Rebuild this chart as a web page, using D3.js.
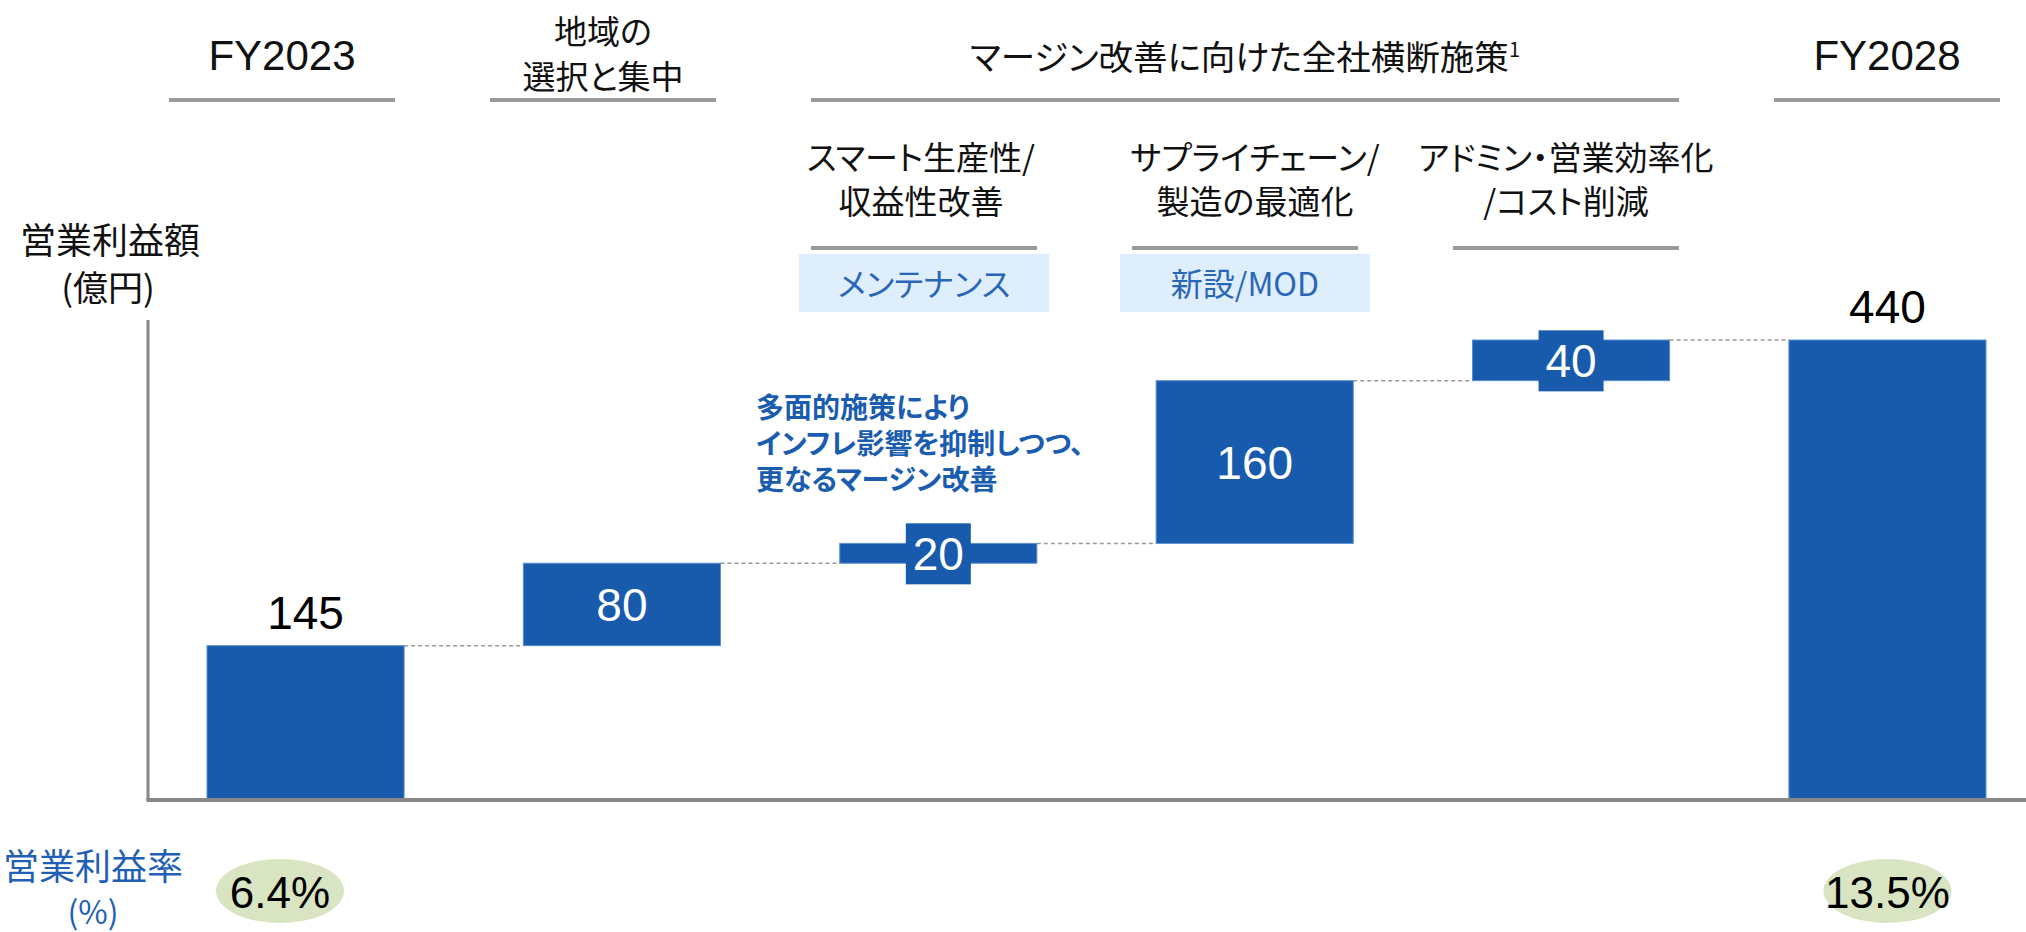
<html>
<head>
    <meta charset="utf-8">
    <script src="https://cdn.jsdelivr.net/npm/d3@7/dist/d3.min.js"></script>
    <style>
        body { margin: 0; background: #fff; }
        text { font-feature-settings: "palt"; }
    </style>
</head>
<body>
    <script type="text/javascript">
        // chart data
        const categories = ["FY2023", "地域の選択と集中", "スマート生産性/収益性改善", "サプライチェーン/製造の最適化", "アドミン・営業効率化/コスト削減", "FY2028"];
        const barKinds = ["total", "delta", "delta", "delta", "delta", "total"];
        // bar heights as drawn in the picture (億円)
        const barValues = [147, 79, 19, 156, 39, 440];
        // value labels as printed
        const valueLabels = ["145", "80", "20", "160", "40", "440"];
        const marginRates = ["6.4%", null, null, null, null, "13.5%"];

        const topHeaders = [
            { col: 0, span: 1, lines: ["FY2023"] },
            { col: 1, span: 1, lines: ["地域の", "選択と集中"] },
            { col: 2, span: 3, lines: ["マージン改善に向けた全社横断施策"], sup: "1" },
            { col: 5, span: 1, lines: ["FY2028"] }
        ];
        const subHeaders = [
            { col: 2, lines: ["スマート生産性/", "収益性改善"], tag: "メンテナンス" },
            { col: 3, lines: ["サプライチェーン/", "製造の最適化"], tag: "新設/MOD" },
            { col: 4, lines: ["アドミン・営業効率化", "/コスト削減"] }
        ];
        const noteLines = ["多面的施策により", "インフレ影響を抑制しつつ、", "更なるマージン改善"];

        const width = 2026;
        const height = 932;
        const blue = "#185BAD";
        const jp = "'Noto Sans CJK JP', 'Noto Sans', sans-serif";
        const num = "'Liberation Sans', Arial, sans-serif";

        const svg = d3.select("body").append("svg")
            .attr("width", width)
            .attr("height", height);

        const x = d3.scaleBand()
            .domain(categories)
            .range([207, 1986])
            .paddingInner(0.377)
            .paddingOuter(0);

        const y = d3.scaleLinear()
            .domain([0, 440])
            .range([799, 340]);

        // running totals for the waterfall
        let run = 0;
        const bars = categories.map((c, i) => {
            let y0, y1;
            if (barKinds[i] === "total") { y0 = 0; y1 = barValues[i]; run = y1; }
            else { y0 = run; y1 = run + barValues[i]; run = y1; }
            return { cat: c, kind: barKinds[i], y0, y1, label: valueLabels[i], rate: marginRates[i] };
        });

        // connectors
        svg.append("g").selectAll("line")
            .data(bars.slice(0, -1))
            .join("line")
                .attr("x1", d => x(d.cat) + x.bandwidth())
                .attr("x2", (d, i) => x(bars[i + 1].cat))
                .attr("y1", d => y(d.y1))
                .attr("y2", d => y(d.y1))
                .attr("stroke", "#9a9a9a")
                .attr("stroke-width", 1.5)
                .attr("stroke-dasharray", "4,3");

        // bars
        svg.append("g").selectAll("rect")
            .data(bars)
            .join("rect")
                .attr("x", d => x(d.cat))
                .attr("y", d => y(d.y1))
                .attr("width", x.bandwidth())
                .attr("height", d => y(d.y0) - y(d.y1))
                .attr("fill", blue)
                .attr("stroke", "#5d8fcf")
                .attr("stroke-width", 1);

        // axes lines
        svg.append("line")
            .attr("x1", 148).attr("x2", 148)
            .attr("y1", 320).attr("y2", y(0) + 1.5)
            .attr("stroke", "#888").attr("stroke-width", 3);
        svg.append("line")
            .attr("x1", 146.5).attr("x2", width)
            .attr("y1", y(0) + 1).attr("y2", y(0) + 1)
            .attr("stroke", "#888").attr("stroke-width", 4);

        // value labels
        const cx = d => x(d.cat) + x.bandwidth() / 2;
        bars.forEach(d => {
            const big = (y(d.y0) - y(d.y1)) > 70;
            if (d.kind === "total") {
                svg.append("text")
                    .attr("x", cx(d)).attr("y", y(d.y1) - 17)
                    .attr("text-anchor", "middle")
                    .style("font-family", num).style("font-size", "46px")
                    .attr("fill", "#000").text(d.label);
            } else if (big) {
                svg.append("text")
                    .attr("x", cx(d)).attr("y", (y(d.y0) + y(d.y1)) / 2)
                    .attr("dy", "0.36em")
                    .attr("text-anchor", "middle")
                    .style("font-family", num).style("font-size", "46px")
                    .attr("fill", "#fff").text(d.label);
            } else {
                // small step: label sits on a blue box wider than the bar
                const my = (y(d.y0) + y(d.y1)) / 2;
                svg.append("rect")
                    .attr("x", cx(d) - 32.5).attr("y", my - 30)
                    .attr("width", 65).attr("height", 61)
                    .attr("fill", blue);
                svg.append("text")
                    .attr("x", cx(d)).attr("y", my)
                    .attr("dy", "0.36em")
                    .attr("text-anchor", "middle")
                    .style("font-family", num).style("font-size", "46px")
                    .attr("fill", "#fff").text(d.label);
            }
        });

        // headers
        const colX = i => 282 + i * 321;
        const headG = svg.append("g").style("font-family", jp).attr("fill", "#111");
        topHeaders.forEach(h => {
            const c = (colX(h.col) + colX(h.col + h.span - 1)) / 2;
            const isFY = h.lines[0].startsWith("FY");
            h.lines.forEach((t, k) => {
                const base = h.lines.length === 2 ? 44 + k * 45 : 70;
                const tx = headG.append("text")
                    .attr("x", c).attr("y", base)
                    .attr("text-anchor", "middle")
                    .style("font-family", isFY ? num : jp)
                    .style("font-size", isFY ? "42px" : (h.lines.length === 2 ? "33px" : "34.5px"))
                    .text(t);
                if (h.sup) {
                    tx.append("tspan").attr("dy", -13).style("font-size", "20px").text(h.sup);
                }
            });
            headG.append("line")
                .attr("x1", colX(h.col) - 113).attr("x2", colX(h.col + h.span - 1) + 113)
                .attr("y1", 100).attr("y2", 100)
                .attr("stroke", "#9a9a9a").attr("stroke-width", 4);
        });

        const subX = [null, null, 921, 1255, 1566];
        subHeaders.forEach(h => {
            const c = subX[h.col];
            h.lines.forEach((t, k) => {
                headG.append("text")
                    .attr("x", c).attr("y", 170 + k * 44)
                    .attr("text-anchor", "middle")
                    .style("font-size", "33px")
                    .text(t);
            });
            headG.append("line")
                .attr("x1", colX(h.col) - 113).attr("x2", colX(h.col) + 113)
                .attr("y1", 248).attr("y2", 248)
                .attr("stroke", "#9a9a9a").attr("stroke-width", 4);
            if (h.tag) {
                headG.append("rect")
                    .attr("x", colX(h.col) - 125).attr("y", 254)
                    .attr("width", 250).attr("height", 58)
                    .attr("fill", "#DFEEFC");
                headG.append("text")
                    .attr("x", colX(h.col)).attr("y", 296)
                    .attr("text-anchor", "middle")
                    .style("font-size", "32px")
                    .attr("fill", "#2a66b8")
                    .text(h.tag);
            }
        });

        // axis title
        svg.append("text").attr("x", 110).attr("y", 254)
            .attr("text-anchor", "middle")
            .style("font-family", jp).style("font-size", "36px").attr("fill", "#111")
            .text("営業利益額");
        svg.append("text").attr("x", 108).attr("y", 301)
            .attr("text-anchor", "middle")
            .style("font-family", jp).style("font-size", "35px").attr("fill", "#111")
            .text("(億円)");

        // annotation
        noteLines.forEach((t, k) => {
            svg.append("text")
                .attr("x", 756).attr("y", 418 + k * 36)
                .style("font-family", jp).style("font-size", "28px").style("font-weight", "bold")
                .attr("fill", "#1a5cb0")
                .text(t);
        });

        // margin row
        svg.append("text").attr("x", 93).attr("y", 880)
            .attr("text-anchor", "middle")
            .style("font-family", jp).style("font-size", "36px").attr("fill", "#1f5fb5")
            .text("営業利益率");
        svg.append("text").attr("x", 93).attr("y", 924)
            .attr("text-anchor", "middle")
            .style("font-family", jp).style("font-size", "32px").attr("fill", "#1f5fb5")
            .text("(%)");

        const rates = bars.filter(d => d.rate);
        svg.append("g").selectAll("ellipse")
            .data(rates)
            .join("ellipse")
                .attr("cx", (d, i) => i === 0 ? 280 : cx(d))
                .attr("cy", 891)
                .attr("rx", 64).attr("ry", 32)
                .attr("fill", "#D8E4C2");
        svg.append("g").selectAll("text")
            .data(rates)
            .join("text")
                .attr("x", (d, i) => i === 0 ? 280 : cx(d))
                .attr("y", 908)
                .attr("text-anchor", "middle")
                .style("font-family", num).style("font-size", "44px")
                .attr("fill", "#000")
                .text(d => d.rate);
    </script>
</body>
</html>
